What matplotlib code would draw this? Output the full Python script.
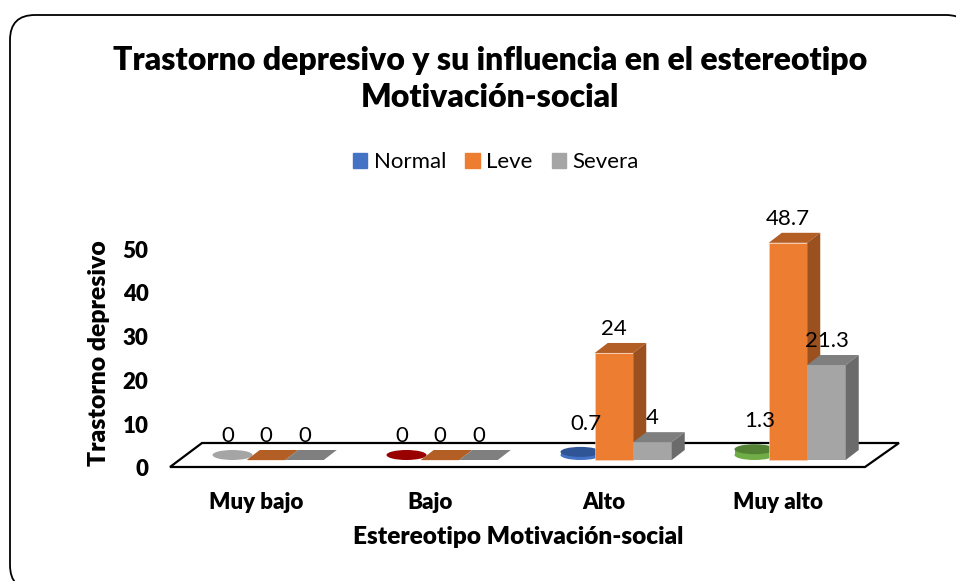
import numpy as np
import matplotlib
matplotlib.use('Agg')
from matplotlib import pyplot as plt
from matplotlib.patches import FancyBboxPatch, Polygon, Patch, Ellipse, Rectangle

categories = ['Muy bajo', 'Bajo', 'Alto', 'Muy alto']
normal = [0, 0, 0.7, 1.3]
leve = [0, 0, 24, 48.7]
severa = [0, 0, 4, 21.3]
normal_colors = ['#a5a5a5', '#990000', '#4472c4', '#70ad47']
normal_tops = ['#a5a5a5', '#990000', '#2f5597', '#548235']

plt.rcParams['font.family'] = ['Lato', 'DejaVu Sans']

W, H = 956, 581
fig = plt.figure(figsize=(W / 100, H / 100), dpi=100)

# pixel layer for the card and the floor, the card runs off the right and bottom
bg = fig.add_axes([0, 0, 1, 1])
bg.set_xlim(0, W)
bg.set_ylim(H, 0)
bg.axis('off')
bg.add_patch(FancyBboxPatch((35, 40), 911, 525, boxstyle='round,pad=25,rounding_size=25',
                            fc='white', ec='black', lw=1.3, clip_on=True))
bg.add_patch(Polygon([(170, 467), (202, 443), (899, 443), (865, 467)], closed=True,
                     fc='white', ec='black', lw=1.6))

# data layer, x in category index and y in percent
PX_X = 174.0
PX_Y = 4.46
X0 = 266
ax = fig.add_axes([0, 0, 1, 1])
ax.patch.set_alpha(0)
ax.set_xlim(-X0 / PX_X, (W - X0) / PX_X)
ax.set_ylim(-(H - 460) / PX_Y, 460 / PX_Y)
ax.axis('off')

x = np.arange(len(categories))
bw = 38.5 / PX_X
ddx = 13 / PX_X
ddy = 10 / PX_Y


def box(xc, v, front, top, side):
    ax.bar(xc, v, bw, color=front, edgecolor='#f6d5bd' if front == '#ed7d31' else 'none', lw=0.4, zorder=5)
    l, r = xc - bw / 2, xc + bw / 2
    ax.add_patch(Polygon([(l, v), (l + ddx, v + ddy), (r + ddx, v + ddy), (r, v)], fc=top, ec='none', zorder=5))
    if v > 0:
        ax.add_patch(Polygon([(r, 0), (r + ddx, ddy), (r + ddx, v + ddy), (r, v)], fc=side, ec='none', zorder=5))


def cyl(xc, v, body, top):
    cx = xc + 5 / PX_X
    cy = ddy / 2
    w = 40 / PX_X
    h = 10 / PX_Y
    if v > 0:
        ax.add_patch(Ellipse((cx, cy), w, h, fc=body, ec='none', zorder=4))
        ax.add_patch(Rectangle((cx - w / 2, cy), w, v, fc=body, ec='none', zorder=4))
    ax.add_patch(Ellipse((cx, cy + v), w, h, fc=top, ec='none', zorder=4))


for i in x:
    cyl(i - bw, normal[i], normal_colors[i], normal_tops[i])
    box(i, leve[i], '#ed7d31', '#b35e25', '#9a511f')
    box(i + bw, severa[i], '#a5a5a5', '#7f7f7f', '#6b6b6b')

# data labels, pixel nudges match where the chart's author dragged them
label_kw = dict(ha='center', va='center', fontsize=16, zorder=8)
nudge_normal = [(0, 24), (0, 24), (10, 33), (10, 33)]
for i in x:
    ax.annotate(f'{normal[i]:g}', (i - bw, normal[i]), xytext=(nudge_normal[i][0] * .72, nudge_normal[i][1] * .72),
                textcoords='offset points', **label_kw)
    ax.annotate(f'{leve[i]:g}', (i, leve[i]), xytext=(0, 24 * .72), textcoords='offset points', **label_kw)
    ax.annotate(f'{severa[i]:g}', (i + bw, severa[i]), xytext=(0, 24 * .72), textcoords='offset points', **label_kw)

# axis labels on their own axes, the scale differs a bit from the bars
lab = fig.add_axes([157 / W, (H - 468) / H, 700 / W, 219 / H])
lab.patch.set_alpha(0)
lab.set_ylim(0, 50)
lab.set_xlim((157 - 256) / PX_X, (857 - 256) / PX_X)
for s in lab.spines.values():
    s.set_visible(False)
lab.set_yticks([0, 10, 20, 30, 40, 50])
lab.set_xticks(x)
lab.set_xticklabels(categories, fontsize=16, fontweight='heavy')
lab.tick_params(axis='both', length=0)
lab.tick_params(axis='y', labelsize=16, pad=6)
lab.tick_params(axis='x', pad=17.5)
for t in lab.get_yticklabels():
    t.set_fontweight('heavy')

fig.text(98.5 / W, 1 - 353 / H, 'Trastorno depresivo', rotation=90, ha='center', va='center',
         fontsize=17.8, fontweight='heavy')
fig.text(518 / W, 1 - 537 / H, 'Estereotipo Motivación-social', ha='center', va='center',
         fontsize=17.6, fontweight='heavy')
fig.text(490 / W, 1 - 79 / H, 'Trastorno depresivo y su influencia en el estereotipo\nMotivación-social',
         ha='center', va='center', fontsize=23, fontweight='heavy', linespacing=1.35)

handles = [Patch(color='#4472c4', label='Normal'), Patch(color='#ed7d31', label='Leve'),
           Patch(color='#a5a5a5', label='Severa')]
fig.legend(handles=handles, loc='center', bbox_to_anchor=(496 / W, 1 - 162 / H), ncol=3, frameon=False,
           fontsize=16, handlelength=0.65, handleheight=0.65, handletextpad=0.3, columnspacing=0.85)

fig.savefig('out.png', dpi=100)
